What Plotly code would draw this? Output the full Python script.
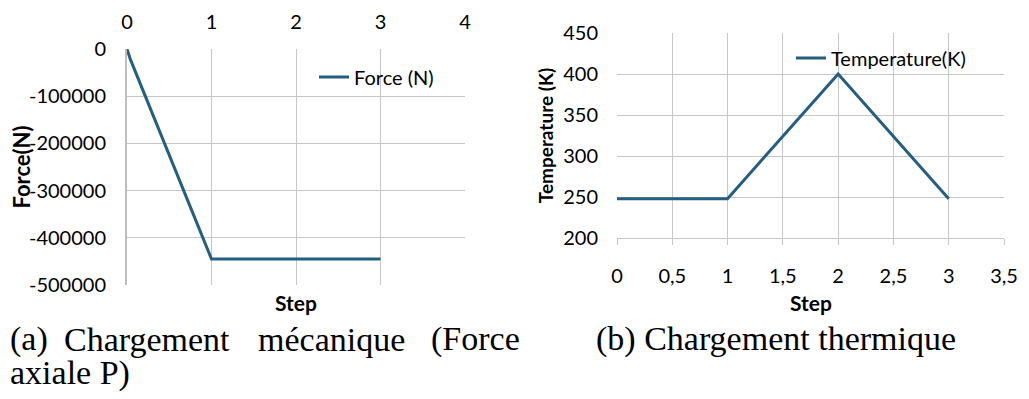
import plotly.graph_objects as go

# the page body adds an 8px margin all round, so the figure is drawn
# from (8, 8) and must fit inside the remaining area
PAGE_W, PAGE_H, OFF = 1029, 399, 8
W, H = PAGE_W - 2 * OFF, PAGE_H - 2 * OFF

# (a) mechanical load
force_step = [0, 0.04, 1, 3]
force_val = [0, -22000, -445000, -445000]
force_xticks = [0, 1, 2, 3, 4]
force_xtext = ['0', '1', '2', '3', '4']
force_yticks = [0, -100000, -200000, -300000, -400000, -500000]
force_ytext = ['0', '-100000', '-200000', '-300000', '-400000', '-500000']

# (b) thermal load
temp_step = [0, 1, 2, 3]
temp_val = [248, 248, 400, 248]
temp_xticks = [0, 0.5, 1, 1.5, 2, 2.5, 3, 3.5]
temp_xtext = ['0', '0,5', '1', '1,5', '2', '2,5', '3', '3,5']
temp_yticks = [200, 250, 300, 350, 400, 450]
temp_ytext = ['200', '250', '300', '350', '400', '450']

LINE = '#255e80'
GRID = '#c6c6c6'
SANS = 'Lato, Open Sans, sans-serif'
SERIF = 'Liberation Serif, Times New Roman, serif'


# page pixel -> paper fraction
def px_x(p):
    return (p - OFF) / W


def px_y(p):
    return 1 - (p - OFF) / H


fig = go.Figure()

fig.add_trace(go.Scatter(
    x=force_step, y=force_val, name='Force (N)', mode='lines',
    line=dict(color=LINE, width=3), xaxis='x', yaxis='y', legend='legend'
))
fig.add_trace(go.Scatter(
    x=temp_step, y=temp_val, name='Temperature(K)', mode='lines',
    line=dict(color=LINE, width=3), xaxis='x2', yaxis='y2', legend='legend2'
))

tickfont = dict(family=SANS, size=20, color='black')
stepfont = dict(family=SANS, size=21, color='black', weight='bold')

fig.update_layout(
    width=W, height=H,
    margin=dict(l=0, r=0, t=0, b=0, autoexpand=False),
    paper_bgcolor='white', plot_bgcolor='white',
    xaxis=dict(
        domain=[px_x(127), px_x(465)], range=[0, 4], side='top', anchor='y',
        tickvals=force_xticks, ticktext=force_xtext, tickfont=tickfont,
        showgrid=True, gridcolor=GRID, gridwidth=1, zeroline=False,
        showline=False, ticks='', ticklabelstandoff=15, automargin=False,
    ),
    yaxis=dict(
        domain=[px_y(285), px_y(49)], range=[-500000, 0], anchor='x',
        tickvals=force_yticks, ticktext=force_ytext, tickfont=tickfont,
        showgrid=True, gridcolor=GRID, gridwidth=1, zeroline=False,
        showline=True, linecolor='#bdbdbd', linewidth=2, ticks='',
        ticklabelstandoff=15, automargin=False,
        title=dict(text='Force(N)', standoff=4,
                   font=dict(family=SANS, size=22, color='black', weight='bold')),
    ),
    xaxis2=dict(
        domain=[px_x(617), px_x(1004)], range=[0, 3.5], anchor='y2',
        tickvals=temp_xticks, ticktext=temp_xtext, tickfont=tickfont,
        showgrid=True, gridcolor=GRID, gridwidth=1, zeroline=False,
        showline=True, linecolor=GRID, linewidth=1, automargin=False,
        ticks='outside', ticklen=6, tickcolor=GRID, ticklabelstandoff=14,
    ),
    yaxis2=dict(
        domain=[px_y(238), px_y(33)], range=[200, 450], anchor='x2',
        tickvals=temp_yticks, ticktext=temp_ytext, tickfont=tickfont,
        showgrid=True, gridcolor=GRID, gridwidth=1, zeroline=False,
        showline=False, ticks='', ticklabelstandoff=18, automargin=False,
        title=dict(text='Temperature (K)', standoff=4,
                   font=dict(family=SANS, size=19, color='black', weight='bold')),
    ),
    legend=dict(
        x=px_x(314), y=px_y(77), xanchor='left', yanchor='middle',
        bgcolor='rgba(0,0,0,0)', font=dict(family=SANS, size=20, color='black'),
    ),
    legend2=dict(
        x=px_x(791), y=px_y(58), xanchor='left', yanchor='middle',
        bgcolor='rgba(0,0,0,0)', font=dict(family=SANS, size=20, color='black'),
    ),
    showlegend=True,
)

# x axis titles sit below the plots
for cx in (296, 811):
    fig.add_annotation(
        text='Step', x=px_x(cx), y=px_y(302), xref='paper', yref='paper',
        showarrow=False, font=stepfont, xanchor='center', yanchor='middle'
    )

# captions
cap = dict(family=SERIF, size=34, color='black')
caption_a = [('(a)', 8), ('Chargement', 62), ('mécanique', 256), ('(Force', 429)]
for word, left in caption_a:
    fig.add_annotation(
        text=word, x=px_x(left), y=px_y(339), xref='paper', yref='paper',
        showarrow=False, font=cap, xanchor='left', yanchor='middle'
    )
fig.add_annotation(
    text='axiale P)', x=px_x(8), y=px_y(373), xref='paper', yref='paper',
    showarrow=False, font=cap, xanchor='left', yanchor='middle'
)
fig.add_annotation(
    text='(b) Chargement thermique', x=px_x(594), y=px_y(339), xref='paper', yref='paper',
    showarrow=False, font=cap, xanchor='left', yanchor='middle'
)

fig.write_html('out.html')
